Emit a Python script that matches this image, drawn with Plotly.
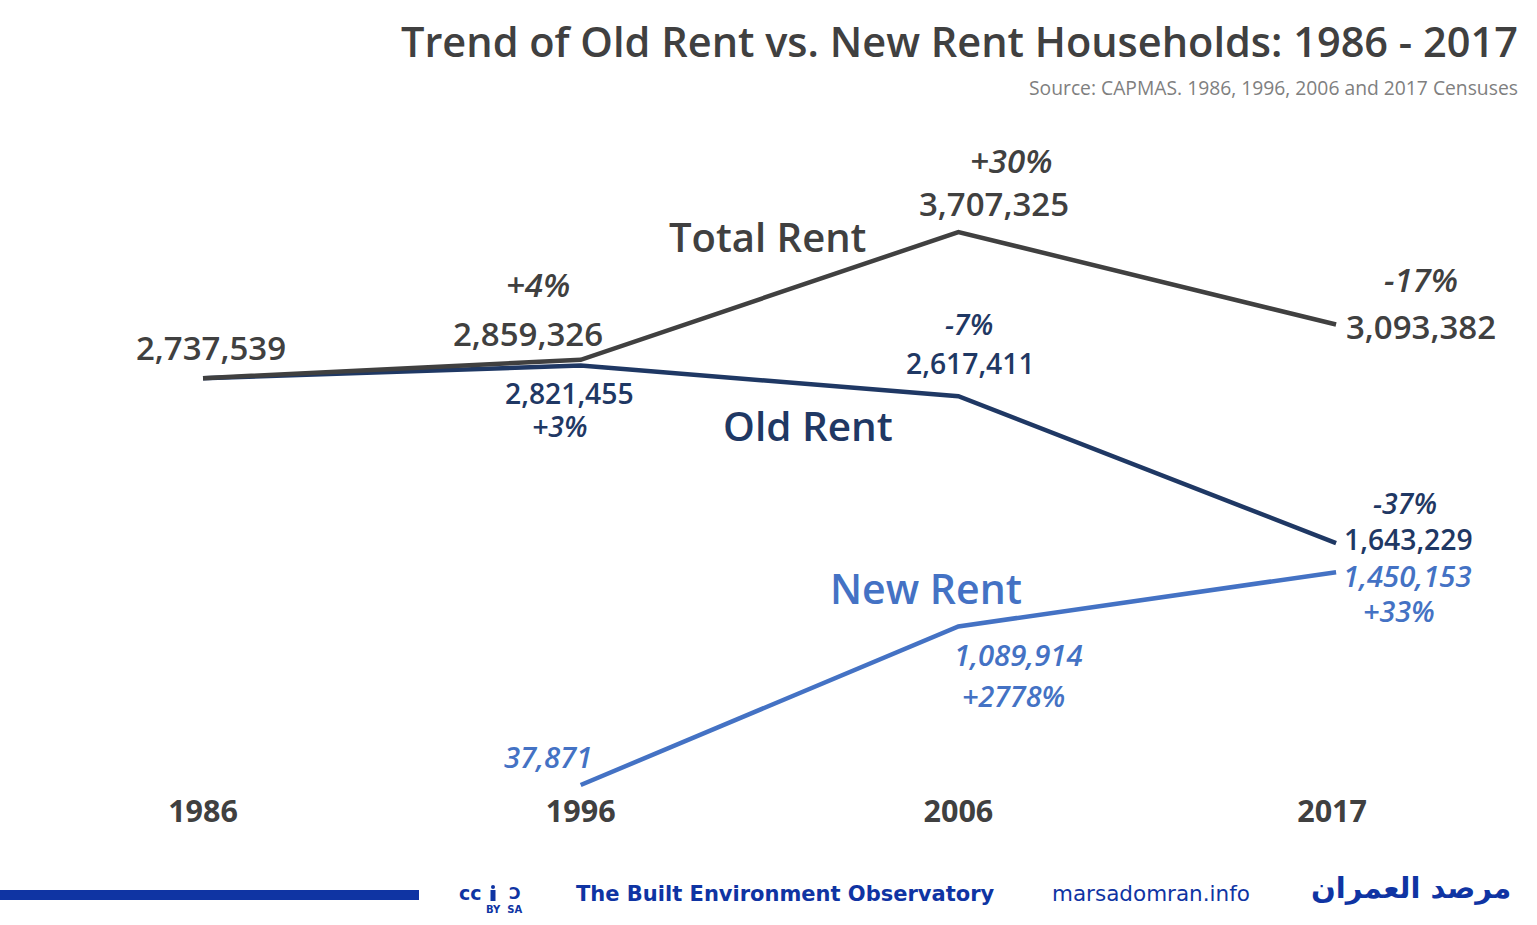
import plotly.graph_objects as go

years = ["1986", "1996", "2006", "2017"]
total_rent = [2737539, 2859326, 3707325, 3093382]
old_rent = [2737539, 2821455, 2617411, 1643229]
new_rent = [None, 37871, 1089914, 1450153]
DARK = "#404040"
NAVY = "#1F3864"
BLUE = "#4472C4"
BAND = "#0F34A3"
FONT = "Open Sans"

total_labels = ["2,737,539", "2,859,326", "3,707,325", "3,093,382"]
total_pct = ["", "+4%", "+30%", "-17%"]
old_labels = ["", "2,821,455", "2,617,411", "1,643,229"]
old_pct = ["", "+3%", "-7%", "-37%"]
new_labels = ["", "37,871", "1,089,914", "1,450,153"]
new_pct = ["", "", "+2778%", "+33%"]

W, H = 1537, 925
PH = 790  # height of the plot area in pixels
fig = go.Figure()
fig.add_trace(go.Scatter(x=years, y=new_rent, mode="lines", line=dict(color=BLUE, width=4.5)))
fig.add_trace(go.Scatter(x=years, y=old_rent, mode="lines", line=dict(color=NAVY, width=4.5)))
fig.add_trace(go.Scatter(x=years, y=total_rent, mode="lines", line=dict(color=DARK, width=4.5)))


def fx(x):
    return x / W


def fy(y):
    return 1 - y / PH


def px(x, y, text, size, color, weight=600, italic=False, anchor="center", family=FONT):
    t = f"<i>{text}</i>" if italic else text
    fig.add_annotation(xref="paper", yref="paper", x=fx(x), y=fy(y), text=t, showarrow=False,
                       xanchor=anchor, yanchor="middle",
                       font=dict(family=family, size=size, color=color, weight=weight))


px(1520, 41, "Trend of Old Rent vs. New Rent Households: 1986 - 2017", 41.5, DARK, anchor="right")
px(1520, 87, "Source: CAPMAS. 1986, 1996, 2006 and 2017 Censuses", 19.3, "#7f7f7f", weight=400, anchor="right")

px(211, 347, total_labels[0], 33, DARK)
px(528, 333, total_labels[1], 33, DARK)
px(994, 203, total_labels[2], 33, DARK)
px(1421, 326, total_labels[3], 33, DARK)
px(538, 285, total_pct[1], 33, DARK, italic=True)
px(1011, 161, total_pct[2], 33, DARK, italic=True)
px(1421, 279, total_pct[3], 33, DARK, italic=True)
px(767, 236, "Total Rent", 40, DARK)

px(569, 393, old_labels[1], 28.3, NAVY)
px(970, 363, old_labels[2], 28.3, NAVY)
px(1408, 539, old_labels[3], 28.3, NAVY)
px(560, 426, old_pct[1], 28.5, NAVY, italic=True)
px(969, 324, old_pct[2], 28.5, NAVY, italic=True)
px(1405, 503, old_pct[3], 28.5, NAVY, italic=True)
px(808, 425, "Old Rent", 40.5, NAVY)

px(548, 757, new_labels[1], 29.3, BLUE, italic=True)
px(1018, 655, new_labels[2], 29.3, BLUE, italic=True)
px(1407, 576, new_labels[3], 29.3, BLUE, italic=True)
px(1013, 695, new_pct[2], 28.7, BLUE, italic=True)
px(1399, 610, new_pct[3], 28.7, BLUE, italic=True)
px(926, 588, "New Rent", 41, BLUE)

# footer
fig.add_shape(type="rect", xref="paper", yref="paper", x0=0, x1=fx(419), y0=fy(900), y1=fy(890),
              line=dict(width=0), fillcolor=BAND)
px(470, 893, "cc", 19, BAND, weight=700, family="DejaVu Sans")
fig.add_shape(type="circle", xref="paper", yref="paper", x0=fx(491), x1=fx(495), y0=fy(889), y1=fy(885),
              line=dict(width=0), fillcolor=BAND)
fig.add_shape(type="rect", xref="paper", yref="paper", x0=fx(490.5), x1=fx(495.5), y0=fy(901), y1=fy(890),
              line=dict(width=0), fillcolor=BAND)
px(515, 893, "Ɔ", 16, BAND, weight=700, family="DejaVu Sans")
px(504, 910, "BY  SA", 10, BAND, weight=700, family="DejaVu Sans")
px(786, 894, "The Built Environment Observatory", 21, BAND, weight=700, family="DejaVu Sans")
px(1151, 893, "marsadomran.info", 21.5, BAND, weight=400, family="DejaVu Sans")
px(1411, 888, "مرصد العمران", 29, BAND, weight=700, family="DejaVu Sans")

fig.update_layout(
    width=W, height=H, margin=dict(l=0, r=0, t=0, b=H - PH, autoexpand=False), showlegend=False,
    paper_bgcolor="white", plot_bgcolor="white",
    xaxis=dict(type="category", categoryorder="array", categoryarray=years,
               range=[-0.5375, 3.532], tickvals=years,
               ticktext=["<b>1986</b>", "<b>1996</b>", "<b>2006</b>", "<b>2017</b>&nbsp;"],
               showgrid=False, zeroline=False, showline=False, ticks="", automargin=False,
               ticklabelstandoff=0,
               tickfont=dict(family=FONT, size=30.5, color=DARK)),
    yaxis=dict(range=[4693, 5246896], visible=False),
)
fig.write_html("out.html", post_script="document.body.style.margin='0';",
               config=dict(displayModeBar=False))
